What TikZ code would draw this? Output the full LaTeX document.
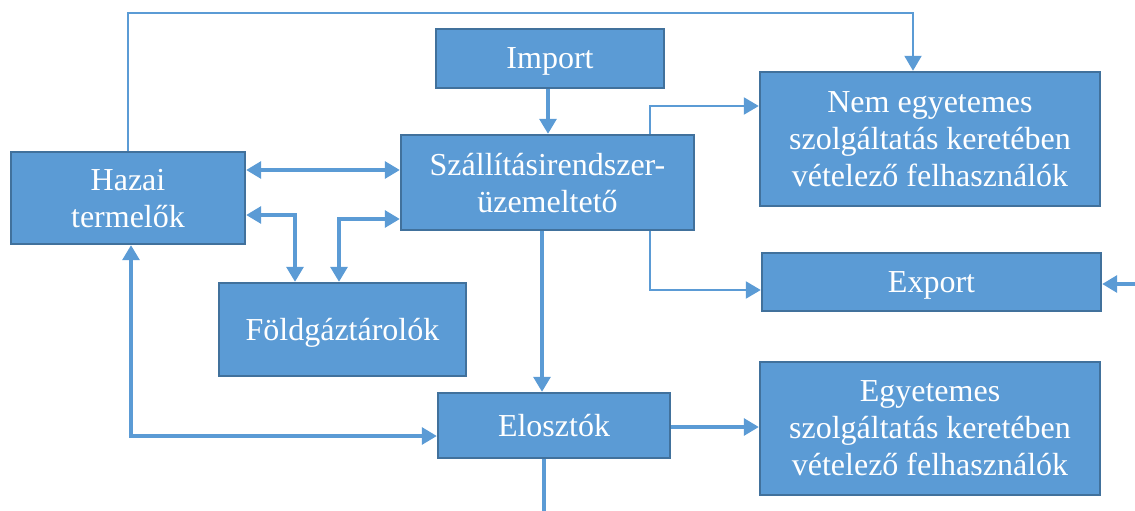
\documentclass[tikz,border=0pt]{standalone}
\usepackage{fontspec}
\setmainfont{Liberation Serif}
\usetikzlibrary{arrows.meta}
\definecolor{boxblue}{HTML}{5B9BD5}
\definecolor{boxedge}{HTML}{41719C}
\tikzstyle{box}=[draw=boxedge, line width=2.4pt, fill=boxblue, text=white, align=center,
  inner sep=0pt, text depth=0pt, font=\fontsize{32}{37}\selectfont]
\tikzstyle{link}=[draw=boxblue, line width=3.2pt]
\tikzstyle{flow}=[link, -{Triangle[length=15pt,width=17pt]}]
\tikzstyle{both}=[link, {Triangle[length=15pt,width=17pt]}-{Triangle[length=15pt,width=17pt]}]

\begin{document}
\begin{tikzpicture}[x=1pt, y=-1pt]
\useasboundingbox (0,0) rectangle (1135,511);
% Boxes
    \node[box, minimum width=234pt, minimum height=92pt] (hazai) at (128,198) {Hazai\\termelők};
    \node[box, minimum width=228pt, minimum height=59pt] (import) at (550,58.5) {Import};
    \node[box, minimum width=293pt, minimum height=95pt] (szall) at (547.5,182.5) {Szállításirendszer-\\üzemeltető};
    \node[box, minimum width=340pt, minimum height=134pt] (nem) at (930,139) {Nem egyetemes\\szolgáltatás keretében\\vételező felhasználók};
    \node[box, minimum width=339pt, minimum height=58pt] (export) at (931.5,282) {Export};
    \node[box, minimum width=247pt, minimum height=93pt] (fold) at (342.5,329.5) {Földgáztárolók};
    \node[box, minimum width=232pt, minimum height=65pt] (eloszt) at (554,425.5) {Elosztók};
    \node[box, minimum width=340pt, minimum height=133pt] (egyet) at (930,428.5) {Egyetemes\\szolgáltatás keretében\\vételező felhasználók};
% Free ends
    \coordinate (topline) at (913,13);
    \coordinate (exin) at (1135,284);
    \coordinate (elout) at (544,511);
% Links
    \draw[flow, line width=2pt] (hazai.north) |- (topline) -- (topline |- nem.north);
    \draw[flow] (import.south -| 548,0) -- (szall.north -| 548,0);
    \draw[both] (hazai.east |- 0,170) -- (szall.west |- 0,170);
    \draw[both] (hazai.east |- 0,215) -| (fold.north -| 295,0);
    \draw[both] (szall.west |- 0,219) -| (fold.north -| 339,0);
    \draw[flow, line width=2.2pt] (szall.north -| 650,0) |- (nem.west |- 0,106);
    \draw[flow, line width=2.2pt] (szall.south -| 650,0) |- (export.west |- 0,290);
    \draw[flow] (exin) -- (export.east |- exin);
    \draw[flow] (szall.south -| 542,0) -- (eloszt.north -| 542,0);
    \draw[both] (hazai.south -| 131,0) |- (eloszt.west |- 0,436);
    \draw[flow] (eloszt.east |- 0,427) -- (egyet.west |- 0,427);
    \draw[link] (eloszt.south -| elout) -- (elout);
\end{tikzpicture}
\end{document}
